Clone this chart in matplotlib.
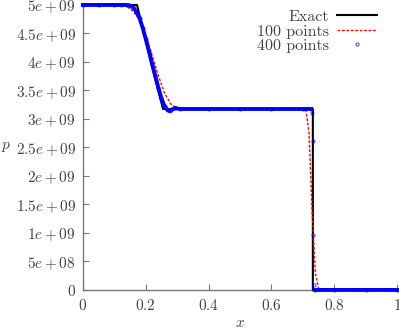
import numpy as np
import matplotlib
matplotlib.use("Agg")
import matplotlib.pyplot as plt

# ------------------------------------------------------------
# Riemann problem: pressure profile, exact vs two grid sizes
# ------------------------------------------------------------

exact_x = [0.0, 0.172, 0.19, 0.21, 0.23, 0.255, 0.732, 0.732, 1.0]
exact_p = [5.0e9, 5.0e9, 4.6e9, 4.15e9, 3.7e9, 3.175e9, 3.175e9, 0.0, 0.0]

coarse_x = [0.0, 0.10, 0.12, 0.14, 0.16, 0.18, 0.20, 0.22, 0.24, 0.26, 0.28,
            0.30, 0.32, 0.70, 0.71, 0.72, 0.73, 0.74, 0.75, 0.76, 1.0]
coarse_p = [5.0e9, 5.0e9, 4.995e9, 4.97e9, 4.89e9, 4.74e9, 4.47e9, 4.12e9,
            3.76e9, 3.45e9, 3.26e9, 3.185e9, 3.175e9, 3.175e9, 3.16e9,
            2.75e9, 1.35e9, 0.3e9, 0.03e9, 0.0, 0.0]

fine_x = [0.0, 0.05, 0.10, 0.12, 0.14, 0.15, 0.16, 0.17, 0.18, 0.19, 0.20,
          0.21, 0.22, 0.23, 0.24, 0.25, 0.26, 0.27, 0.277, 0.285, 0.293,
          0.31, 0.40, 0.50, 0.60, 0.70, 0.7265, 0.729, 0.7315, 0.7335,
          0.736, 0.7385, 0.80, 0.90, 1.0]
fine_p = [5.0e9, 5.0e9, 5.0e9, 5.0e9, 5.0e9, 4.99e9, 4.96e9, 4.88e9, 4.77e9,
          4.60e9, 4.40e9, 4.19e9, 3.97e9, 3.76e9, 3.55e9, 3.36e9, 3.22e9,
          3.15e9, 3.14e9, 3.17e9, 3.19e9, 3.175e9, 3.175e9, 3.175e9,
          3.175e9, 3.175e9, 3.175e9, 3.1e9, 2.62e9, 0.96e9, 0.09e9, 0.0,
          0.0, 0.0, 0.0]

x_ticks = [0, 0.2, 0.4, 0.6, 0.8, 1.0]
x_labels = ["$0$", "$0.2$", "$0.4$", "$0.6$", "$0.8$", "$1$"]
y_ticks = [0, 0.5e9, 1e9, 1.5e9, 2e9, 2.5e9, 3e9, 3.5e9, 4e9, 4.5e9, 5e9]
y_labels = ["$0$", "$5e+08$", "$1e+09$", "$1.5e+09$", "$2e+09$", "$2.5e+09$",
            "$3e+09$", "$3.5e+09$", "$4e+09$", "$4.5e+09$", "$5e+09$"]

plt.rcParams["mathtext.fontset"] = "cm"
plt.rcParams["font.family"] = "serif"
plt.rcParams["font.serif"] = ["cmr10", "DejaVu Serif"]
plt.rcParams["axes.formatter.use_mathtext"] = True

text_color = "#444444"
axis_color = "#7a7a7a"

fig = plt.figure(figsize=(3.99, 3.31), dpi=100)
ax = fig.add_axes([0.208, 0.124, 0.787, 0.861])

# 400 points sit so close they merge into a band, except across the shock
fx = np.array(fine_x)
fp = np.array(fine_p)
band_p = np.where((fx > 0.7265) & (fx < 0.7385), np.nan, fp)

ax.plot(exact_x, exact_p, color="black", linewidth=1.5, label="Exact",
        clip_on=False, zorder=3)
ax.plot(coarse_x, coarse_p, color="red", linewidth=1.0, dashes=(2, 1.2),
        label="100 points", clip_on=False, zorder=4)
ax.plot(fx, fp, linestyle="none", marker="o", markersize=2.2,
        markerfacecolor="none", markeredgecolor="blue", markeredgewidth=0.7,
        alpha=0.8, label="400 points", clip_on=False, zorder=4.5)
ax.plot(fx, band_p, color="blue", linewidth=2.8, clip_on=False, zorder=5)

ax.set_xlim(0, 1)
ax.set_ylim(0, 5e9)
ax.set_xticks(x_ticks)
ax.set_xticklabels(x_labels)
ax.set_yticks(y_ticks)
ax.set_yticklabels(y_labels)

for side in ["top", "right"]:
    ax.spines[side].set_visible(False)
for side in ["left", "bottom"]:
    ax.spines[side].set_color(axis_color)
    ax.spines[side].set_linewidth(1.0)

ax.tick_params(direction="in", length=4, width=0.8, color=axis_color,
               labelcolor=text_color, labelsize=11)
ax.tick_params(axis="y", pad=5)
ax.tick_params(axis="x", pad=6)

ax.set_xlabel("$x$", color=text_color, fontsize=11, va="center")
ax.xaxis.set_label_coords(0.5, -0.118)
ax.set_ylabel("$p$", color=text_color, fontsize=11, rotation=0,
              va="center", ha="center")
ax.yaxis.set_label_coords(-0.245, 0.5)

leg = ax.legend(loc="upper right", bbox_to_anchor=(0.971, 1.022), frameon=False,
                markerfirst=False, fontsize=11.5, handlelength=2.5,
                handletextpad=0.5, labelspacing=0.02, borderpad=0.2,
                numpoints=1)
for t in leg.get_texts():
    t.set_color(text_color)

fig.savefig("out.png", dpi=100)
